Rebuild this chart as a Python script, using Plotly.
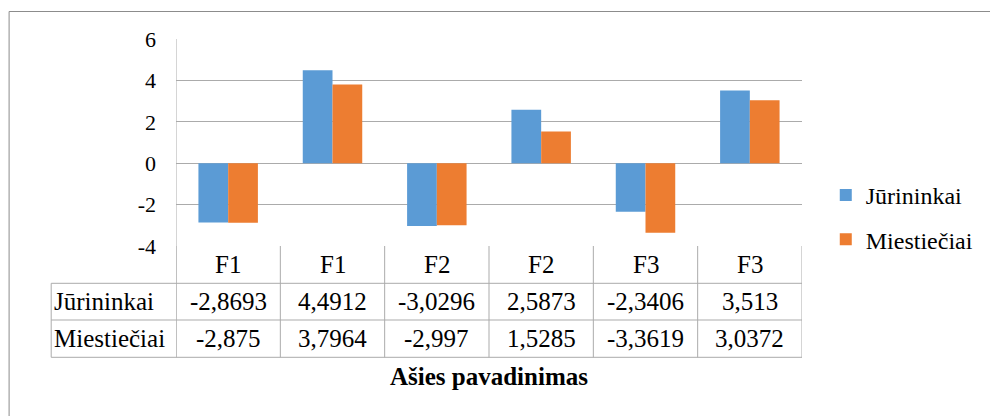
import plotly.graph_objects as go

categories = ["F1", "F1", "F2", "F2", "F3", "F3"]
series_names = ["Jūrininkai", "Miestiečiai"]
jurininkai = [-2.8693, 4.4912, -3.0296, 2.5873, -2.3406, 3.513]
miestieciai = [-2.875, 3.7964, -2.997, 1.5285, -3.3619, 3.0372]
table_text = [
    ["-2,8693", "4,4912", "-3,0296", "2,5873", "-2,3406", "3,513"],
    ["-2,875", "3,7964", "-2,997", "1,5285", "-3,3619", "3,0372"],
]
y_ticks = [-4, -2, 0, 2, 4, 6]
y_tick_labels = ["-4", "-2", "0", "2", "4", "6"]
colors = ["#5B9BD5", "#ED7D31"]

W, H = 990, 416
L, R, T, B = 176, 182, 39, 170
PW, PH = W - L - R, H - T - B

def pxx(px):
    return (px - L) / PW

def pxy(py):
    return (H - B - py) / PH

FONT = "Liberation Serif, Times New Roman, Tinos, DejaVu Serif, serif"
GRID = "#ABABAB"
TFS = 25
xs = list(range(len(categories)))

fig = go.Figure()
for name, vals, col in zip(series_names, [jurininkai, miestieciai], colors):
    fig.add_trace(go.Bar(x=xs, y=vals, name=name, marker=dict(color=col, line=dict(width=0)),
                         legendgroup=name))

shapes = []
annotations = []
shapes.append(dict(type="rect", xref="paper", yref="paper", x0=pxx(7.5), x1=pxx(1000),
                   y0=pxy(430), y1=pxy(11.5), line=dict(color="#8C8C8C", width=1)))
shapes.append(dict(type="line", xref="x", yref="paper", x0=-0.5, x1=-0.5, y0=pxy(357.3), y1=1,
                   line=dict(color=GRID, width=1)))
for py in [283.3, 320, 357.3]:
    shapes.append(dict(type="line", xref="paper", yref="paper", x0=pxx(50), x1=1,
                       y0=pxy(py), y1=pxy(py), line=dict(color=GRID, width=1)))
shapes.append(dict(type="line", xref="paper", yref="paper", x0=pxx(50), x1=pxx(50),
                   y0=pxy(357.3), y1=pxy(283.3), line=dict(color=GRID, width=1)))
for i in range(len(categories) + 1):
    shapes.append(dict(type="line", xref="x", yref="paper", x0=i - 0.5, x1=i - 0.5,
                       y0=pxy(357.3), y1=0, line=dict(color=GRID, width=1)))
for i, c in enumerate(categories):
    annotations.append(dict(x=i, y=pxy(264), xref="x", yref="paper", text=c, showarrow=False,
                            xanchor="center", yanchor="middle",
                            font=dict(family=FONT, size=TFS, color="#000")))
for r, (name, row) in enumerate(zip(series_names, table_text)):
    yc = pxy(301.7 + r * 37)
    annotations.append(dict(x=pxx(51), y=yc, xref="paper", yref="paper", text=name, showarrow=False,
                            xanchor="left", yanchor="middle",
                            font=dict(family=FONT, size=TFS, color="#000")))
    for i, t in enumerate(row):
        annotations.append(dict(x=i, y=yc, xref="x", yref="paper", text=t, showarrow=False,
                                xanchor="center", yanchor="middle",
                                font=dict(family=FONT, size=TFS, color="#000")))
annotations.append(dict(x=pxx(491.7), y=pxy(376), xref="paper", yref="paper",
                        text="<b>Ašies pavadinimas</b>", showarrow=False,
                        xanchor="center", yanchor="middle",
                        font=dict(family=FONT, size=25, color="#000")))

fig.update_layout(
    width=W, height=H,
    margin=dict(l=L, r=R, t=T, b=B, pad=0),
    paper_bgcolor="white", plot_bgcolor="white",
    barmode="group", bargap=0.43, bargroupgap=0,
    font=dict(family=FONT, size=22, color="#000"),
    xaxis=dict(range=[-0.5, len(categories) - 0.5], showticklabels=False, showgrid=False,
               zeroline=False, showline=False, ticks=""),
    yaxis=dict(range=[-4, 6], tickvals=y_ticks, ticktext=y_tick_labels, showgrid=True,
               gridcolor=GRID, gridwidth=1,
               zeroline=True, zerolinecolor=GRID, zerolinewidth=1, showline=False,
               ticks="", ticklabelstandoff=19, tickfont=dict(family=FONT, size=22, color="#000")),
    showlegend=True,
    legend=dict(x=pxx(832), y=pxy(173), xanchor="left", yanchor="top",
                font=dict(family=FONT, size=24, color="#000"), tracegroupgap=10,
                bgcolor="rgba(0,0,0,0)", itemwidth=30),
    modebar=dict(bgcolor="rgba(0,0,0,0)", color="rgba(0,0,0,0)", activecolor="rgba(0,0,0,0)"),
    shapes=shapes, annotations=annotations,
)

fig.write_html("out.html", config={"displaylogo": False},
               post_script="document.body.style.margin='0px';")
